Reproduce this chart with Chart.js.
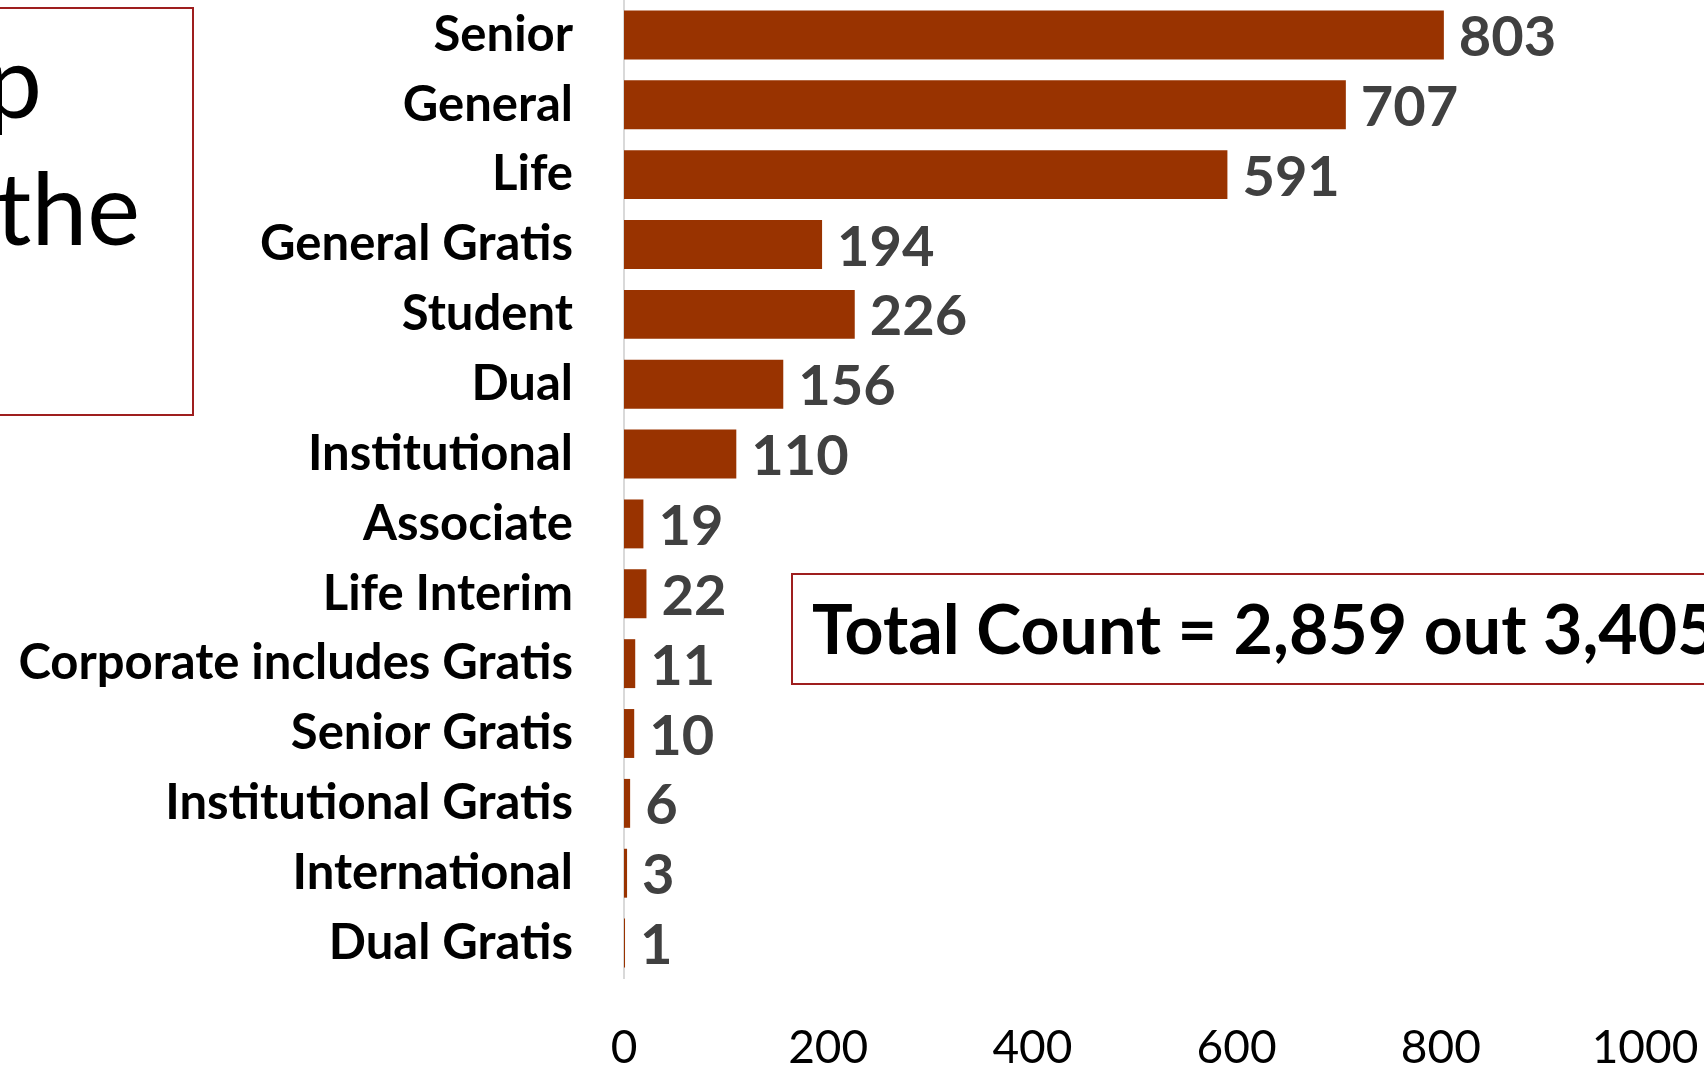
<!DOCTYPE html>
<html>
<head>
<meta charset="utf-8">
<script src="https://cdn.jsdelivr.net/npm/chart.js@4"></script>
<style>
  html, body { margin: 0; padding: 0; background: #fff; overflow: hidden; }
  #wrap { position: relative; width: 1704px; height: 1068px; overflow: hidden; }
  #main-chart { position: absolute; left: 0; top: 0; }
  .note { position: absolute; box-sizing: border-box; border: 2px solid #9e1e1e; background: #fff; }
  .txt { position: absolute; white-space: nowrap; color: #000; font-family: Lato, sans-serif; }
</style>
</head>
<body>
<div id="wrap">
  <canvas id="main-chart" width="1704" height="1068"></canvas>
  <div class="note" style="left:-400px; top:7px; width:594px; height:409px;"></div>
  <div class="txt" style="left:-200px; width:242px; top:29px; text-align:right; font-size:100px; line-height:100px;">p</div>
  <div class="txt" style="left:-200px; width:340px; top:156px; text-align:right; font-size:100px; line-height:100px;">the</div>
  <div class="note" style="left:791px; top:573px; width:1000px; height:112px;"></div>
  <div class="txt" style="left:812px; top:594px; font-weight:700; font-size:68px; line-height:68px;">Total Count = 2,859 out 3,405</div>
</div>
<script>
const categories = ['Senior', 'General', 'Life', 'General Gratis', 'Student', 'Dual', 'Institutional',
  'Associate', 'Life Interim', 'Corporate includes Gratis', 'Senior Gratis', 'Institutional Gratis',
  'International', 'Dual Gratis'];
const counts = [803, 707, 591, 194, 226, 156, 110, 19, 22, 11, 10, 6, 3, 1];
const xTicks = [0, 200, 400, 600, 800, 1000];

const barColor = '#993300';

// value labels at the end of each bar
const valueLabels = {
  id: 'value-labels',
  afterDatasetsDraw(ch) {
    const {ctx} = ch;
    ctx.save();
    ctx.font = '700 56px Lato, sans-serif';
    ctx.fillStyle = '#404040';
    ctx.textAlign = 'left';
    ctx.textBaseline = 'alphabetic';
    ch.getDatasetMeta(0).data.forEach((bar, i) => {
      ctx.fillText(String(counts[i]), bar.x + 15, bar.y + 21);
    });
    ctx.restore();
  }
};

new Chart(document.getElementById('main-chart'), {
  type: 'bar',
  data: {
    labels: categories,
    datasets: [{
      data: counts,
      backgroundColor: barColor,
      borderWidth: 0,
      categoryPercentage: 1,
      barPercentage: 0.7,
    }]
  },
  options: {
    indexAxis: 'y',
    responsive: false,
    animation: false,
    layout: { autoPadding: false, padding: { left: 0, right: 59, top: -3, bottom: 0 } },
    plugins: { legend: { display: false }, tooltip: { enabled: false } },
    scales: {
      x: {
        min: 0, max: 1000,
        grid: { display: false, drawTicks: false },
        border: { display: false },
        afterBuildTicks: s => { s.ticks = xTicks.map(v => ({ value: v })); },
        // fixed axis band; no extra room for the edge labels
        afterFit: s => { s.height = 90; s.paddingLeft = 0; s.paddingRight = 0; },
        ticks: { color: '#000', padding: 43, font: { family: 'Lato', size: 46 }, callback: v => String(v) }
      },
      y: {
        grid: { display: false, drawTicks: false },
        border: { color: '#d9d9d9', width: 2 },
        afterFit: s => { s.width = 624; s.paddingTop = 0; s.paddingBottom = 0; },
        ticks: { color: '#000', padding: 51, font: { family: 'Lato', size: 49, weight: '700' } }
      }
    }
  },
  plugins: [valueLabels]
});
</script>
</body>
</html>
